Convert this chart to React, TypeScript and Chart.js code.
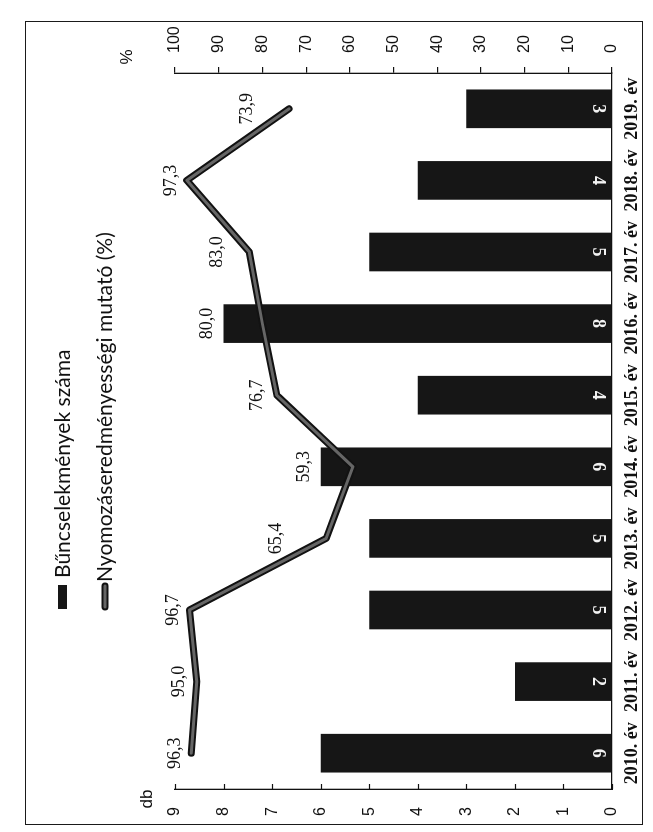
import { useEffect, useRef } from 'react';
import { Chart, registerables } from 'chart.js';

Chart.register(...registerables);

const categories = ['2010. év', '2011. év', '2012. év', '2013. év', '2014. év', '2015. év', '2016. év', '2017. év', '2018. év', '2019. év'];
const crimeCounts = [6, 2, 5, 5, 6, 4, 8, 5, 4, 3];
const clearanceRates = [96.3, 95.0, 96.7, 65.4, 59.3, 76.7, 80.0, 83.0, 97.3, 73.9];
const countAxisMax = 9;
const rateAxisMax = 100;
const legendLabels = ['Bűncselekmények száma', 'Nyomozáseredményességi mutató (%)'];
const countAxisTitle = 'db';
const rateAxisTitle = '%';

// canvas (unrotated) size; the whole chart is turned 90° counter-clockwise by CSS
const W = 800;
const H = 614;
const AREA = { left: 33, right: 749, top: 148, bottom: 585 };

const BAR_COLOR = '#161616';
const LINE_DARK = '#121212';
const LINE_LIGHT = '#666666';
const SANS = '"Liberation Sans", Arial, sans-serif';
const SERIF = '"Liberation Serif", "Times New Roman", serif';

const fmt = (v: number) => v.toFixed(1).replace('.', ',');

// y of the polyline at horizontal position x
function lineYAt(pts: any[], x: number) {
  for (let i = 0; i < pts.length - 1; i++) {
    const a = pts[i];
    const b = pts[i + 1];
    if (x >= a.x && x <= b.x) {
      const t = (x - a.x) / (b.x - a.x);
      return a.y + (b.y - a.y) * t;
    }
  }
  return Infinity;
}

const decor = {
  id: 'decor',
  afterDatasetsDraw(chart: any) {
    const ctx: CanvasRenderingContext2D = chart.ctx;
    const lineMeta = chart.getDatasetMeta(0);
    const barMeta = chart.getDatasetMeta(1);
    const pts = lineMeta.data.map((p: any) => ({ x: p.x, y: p.y }));

    // lighter core of the thick line
    ctx.save();
    ctx.beginPath();
    pts.forEach((p: any, i: number) => (i ? ctx.lineTo(p.x, p.y) : ctx.moveTo(p.x, p.y)));
    ctx.strokeStyle = LINE_LIGHT;
    ctx.lineWidth = 3;
    ctx.lineJoin = 'round';
    ctx.lineCap = 'round';
    ctx.stroke();
    ctx.restore();

    // bar value labels (upside down near the base)
    ctx.save();
    ctx.fillStyle = '#f2f2f2';
    ctx.font = `bold 18px ${SERIF}`;
    ctx.textAlign = 'center';
    ctx.textBaseline = 'middle';
    barMeta.data.forEach((b: any, i: number) => {
      ctx.save();
      ctx.translate(b.x, b.base - 14);
      ctx.rotate(Math.PI);
      ctx.fillText(String(crimeCounts[i]), 0, 0);
      ctx.restore();
    });
    ctx.restore();

    // line value labels, placed above the line and the bar
    ctx.save();
    ctx.fillStyle = '#111';
    ctx.font = `18px ${SERIF}`;
    ctx.textAlign = 'center';
    ctx.textBaseline = 'middle';
    pts.forEach((p: any, i: number) => {
      const barTop = barMeta.data[i].y;
      const top = Math.min(p.y, barTop, lineYAt(pts, p.x - 18), lineYAt(pts, p.x + 18));
      ctx.fillText(fmt(clearanceRates[i]), p.x, top - 16);
    });
    ctx.restore();
  },
  afterDraw(chart: any) {
    const ctx: CanvasRenderingContext2D = chart.ctx;
    const yScale = chart.scales.y;
    const left = chart.chartArea.left;

    // inward tick marks of the count axis
    ctx.save();
    ctx.strokeStyle = '#111';
    ctx.lineWidth = 1.2;
    for (let v = 0; v <= countAxisMax; v++) {
      const y = Math.round(yScale.getPixelForValue(v)) + 0.5;
      ctx.beginPath();
      ctx.moveTo(left, y);
      ctx.lineTo(left + 5, y);
      ctx.stroke();
    }
    ctx.restore();

    // axis titles
    ctx.save();
    ctx.fillStyle = '#111';
    ctx.font = `17px ${SANS}`;
    ctx.textAlign = 'center';
    ctx.textBaseline = 'middle';
    ctx.fillText(countAxisTitle, 23, 120);
    ctx.fillText(rateAxisTitle, 765, 100);
    ctx.restore();

    // legend
    ctx.save();
    ctx.font = `100px Lato`;
    const w = ctx.measureText(legendLabels[1]).width;
    const size = (350 * 100) / w;
    ctx.font = `${size.toFixed(2)}px Lato`;
    ctx.textAlign = 'left';
    ctx.textBaseline = 'middle';
    // row 1: bar marker
    ctx.fillStyle = BAR_COLOR;
    ctx.fillRect(213, 31, 24, 9);
    ctx.fillStyle = '#111';
    ctx.fillText(legendLabels[0], 244, 36);
    // row 2: line marker
    ctx.beginPath();
    ctx.moveTo(215, 78);
    ctx.lineTo(236, 78);
    ctx.strokeStyle = LINE_DARK;
    ctx.lineWidth = 7;
    ctx.lineCap = 'round';
    ctx.stroke();
    ctx.strokeStyle = LINE_LIGHT;
    ctx.lineWidth = 3;
    ctx.stroke();
    ctx.fillText(legendLabels[1], 240, 78);
    ctx.restore();
  },
};

export default function App() {
  const canvasRef = useRef<HTMLCanvasElement | null>(null);

  useEffect(() => {
    if (!canvasRef.current) return;
    const chart = new Chart(canvasRef.current, {
      type: 'bar',
      data: {
        labels: categories,
        datasets: [
          {
            type: 'line',
            label: legendLabels[1],
            data: clearanceRates,
            yAxisID: 'y1',
            borderColor: LINE_DARK,
            borderWidth: 7,
            pointRadius: 0,
            tension: 0,
            borderJoinStyle: 'round',
            borderCapStyle: 'round',
            order: 0,
          } as any,
          {
            type: 'bar',
            label: legendLabels[0],
            data: crimeCounts,
            yAxisID: 'y',
            backgroundColor: BAR_COLOR,
            barPercentage: 0.54,
            categoryPercentage: 1,
            order: 1,
          },
        ],
      },
      options: {
        responsive: false,
        maintainAspectRatio: false,
        animation: false,
        layout: { padding: { top: AREA.top, left: 0, right: 0, bottom: 0 } },
        plugins: {
          legend: { display: false },
          tooltip: { enabled: false },
          title: { display: false },
        },
        scales: {
          x: {
            offset: true,
            grid: { display: false, drawTicks: false },
            border: { display: true, color: '#111', width: 1.3 },
            ticks: {
              autoSkip: false,
              maxRotation: 0,
              minRotation: 0,
              padding: 10,
              color: '#111',
              font: { family: SERIF, size: 18, weight: 'bold' },
            },
            afterFit: (s: any) => {
              s.height = H - AREA.bottom;
            },
          },
          y: {
            position: 'left',
            min: 0,
            max: countAxisMax,
            ticks: { stepSize: 1, padding: 18, color: '#111', font: { family: SANS, size: 16 } },
            grid: { display: true, drawOnChartArea: false, drawTicks: false },
            border: { display: true, color: '#111', width: 1.3 },
            afterFit: (s: any) => {
              s.width = AREA.left;
            },
          },
          y1: {
            position: 'right',
            min: 0,
            max: rateAxisMax,
            ticks: { stepSize: 10, padding: 14, color: '#111', font: { family: SANS, size: 16 } },
            grid: { display: true, drawOnChartArea: false, drawTicks: true, tickLength: 6, color: '#111', lineWidth: 1.2 },
            border: { display: true, color: '#111', width: 1.3 },
            afterFit: (s: any) => {
              s.width = W - AREA.right;
            },
          },
        },
      },
      plugins: [decor],
    });
    return () => chart.destroy();
  }, []);

  return (
    <div style={{ position: 'fixed', left: 0, top: 0, width: 653, height: 832, background: '#fff', overflow: 'hidden' }}>
      <div
        style={{
          position: 'absolute',
          left: 25,
          top: 21,
          width: 618,
          height: 804,
          boxSizing: 'border-box',
          border: '1.5px solid #1a1a1a',
        }}
      />
      <div
        style={{
          position: 'absolute',
          left: 27,
          top: 822,
          width: W,
          height: H,
          transformOrigin: '0 0',
          transform: 'rotate(-90deg)',
        }}
      >
        <canvas ref={canvasRef} width={W} height={H} style={{ width: W, height: H, display: 'block' }} />
      </div>
    </div>
  );
}
